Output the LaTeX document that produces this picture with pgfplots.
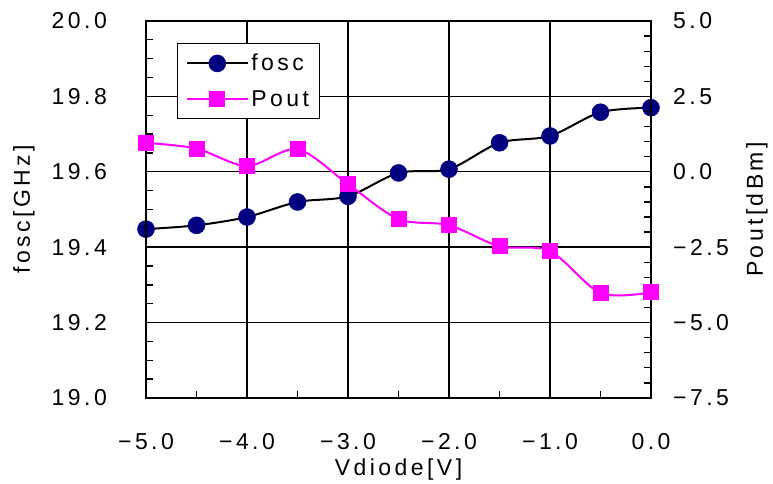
\documentclass[border=0pt]{standalone}
\usepackage{fontspec}
\setmainfont{Liberation Sans}[LetterSpace=15]
\usepackage{pgfplots}
\pgfplotsset{compat=1.18}

\definecolor{navyc}{RGB}{0,0,128}
\definecolor{magc}{RGB}{255,0,255}

% oscillation frequency [GHz] vs. diode bias [V]
\newcommand{\foscdata}{
(-5.0,19.448) (-4.5,19.458) (-4.0,19.480) (-3.5,19.520) (-3.0,19.535)
(-2.5,19.597) (-2.0,19.607) (-1.5,19.677) (-1.0,19.695) (-0.5,19.758) (0.0,19.770)}
% output power [dBm] vs. diode bias [V]
\newcommand{\poutdata}{
(-5.0,0.96) (-4.5,0.77) (-4.0,0.19) (-3.5,0.75) (-3.0,-0.41)
(-2.5,-1.57) (-2.0,-1.77) (-1.5,-2.47) (-1.0,-2.63) (-0.5,-4.02) (0.0,-4.00)}

\pgfplotsset{
  common/.style={
    at={(146bp,86bp)}, anchor=south west,
    scale only axis, width=505bp, height=377bp,
    xmin=-5, xmax=0,
    font=\fontsize{23bp}{27bp}\selectfont,
    tick align=inside,
    major tick length=0pt, minor tick length=7bp,
    every tick/.style={black, line width=1.3bp},
    axis line style={black, line width=1.8bp},
  },
}

\begin{document}
\begin{tikzpicture}
\useasboundingbox (0,0) rectangle (773bp,484bp);

\begin{axis}[
  common,
  ymin=19, ymax=20,
  xtick={-5,-4,-3,-2,-1,0},
  xticklabels={−5.0,−4.0,−3.0,−2.0,−1.0,0.0},
  minor xtick={-4.5,-3.5,-2.5,-1.5,-0.5},
  ytick={19,19.2,19.4,19.6,19.8,20},
  yticklabels={19.0,19.2,19.4,19.6,19.8,20.0},
  minor ytick={19.05,19.1,19.15,19.25,19.3,19.35,19.45,19.5,19.55,19.65,19.7,19.75,19.85,19.9,19.95},
  xtick pos=bottom, ytick pos=left,
  grid=major,
  major grid style={black, line width=1.4bp},
  xticklabel style={anchor=center, inner sep=0pt, yshift=-44bp},
  yticklabel style={anchor=east, inner sep=0pt, xshift=-39bp},
  xlabel={Vdiode[V]},
  xlabel style={at={(axis description cs:0.5,0)}, anchor=center, yshift=-72bp},
  ylabel={fosc[GHz]},
  ylabel style={at={(axis description cs:0,0.5)}, anchor=center, rotate=0, yshift=122bp},
]
\addplot[black, line width=2bp, smooth, tension=0.5,
  mark=*, mark size=8.5bp, mark options={navyc, fill=navyc, line width=0.5bp}]
  coordinates {\foscdata};
\end{axis}

\begin{axis}[
  common,
  ymin=-7.5, ymax=5,
  hide x axis,
  ytick={-7.5,-5,-2.5,0,2.5,5},
  yticklabels={−7.5,−5.0,−2.5,0.0,2.5,5.0},
  minor ytick={-7,-6.5,-6,-5.5,-4.5,-4,-3.5,-3,-2,-1.5,-1,-0.5,0.5,1,1.5,2,3,3.5,4,4.5},
  ytick pos=right,
  yticklabel style={anchor=west, inner sep=0pt, xshift=22bp},
  ylabel={Pout[dBm]},
  ylabel style={at={(axis description cs:1,0.5)}, anchor=center, yshift=-106bp},
  legend style={at={(axis description cs:0.061,0.942)}, anchor=north west,
    draw=black, line width=1bp, fill=white,
    inner xsep=9bp, inner ysep=9bp, row sep=14bp,
    font=\fontsize{23bp}{27bp}\selectfont},
  legend cell align=left,
  legend image code/.code={
    \draw[#1, mark repeat=2, mark phase=2]
      plot coordinates {(0bp,0bp) (30bp,0bp) (61bp,0bp)};},
]
\addlegendimage{black, line width=2bp,
  mark=*, mark size=8.5bp, mark options={navyc, fill=navyc, line width=0.5bp}}
\addlegendentry{fosc}
\addplot[magc, line width=2bp, smooth, tension=0.5,
  mark=square*, mark size=7bp, mark options={magc, fill=magc}]
  coordinates {\poutdata};
\addlegendentry{Pout}
\end{axis}
\end{tikzpicture}
\end{document}
